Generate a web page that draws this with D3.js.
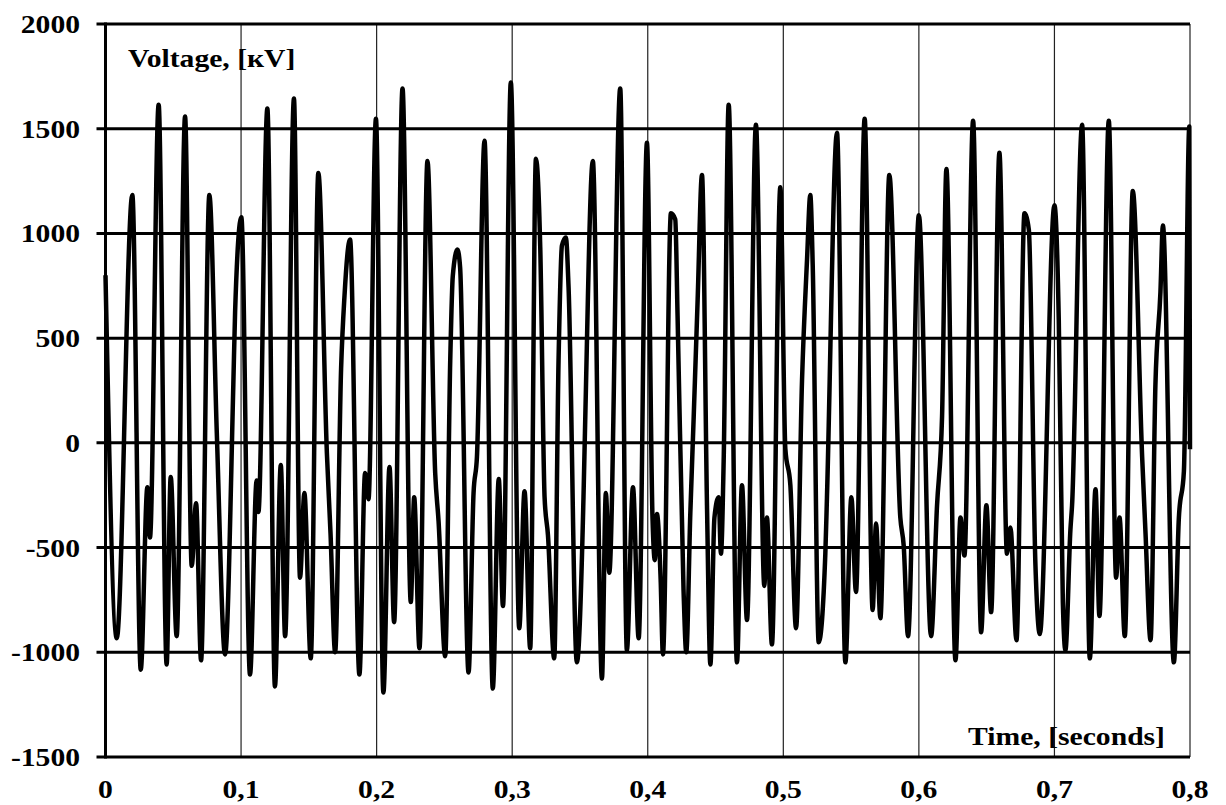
<!DOCTYPE html>
<html>
<head>
<meta charset="utf-8">
<script src="https://cdn.jsdelivr.net/npm/d3@7"></script>
<style>
  body { margin: 0; background: #fff; }
  text { font-family: "Liberation Serif", "Times New Roman", serif; font-weight: bold; font-size: 26px; fill: #000; }
</style>
</head>
<body>
<div id="chart"></div>
<script>
// values: time in seconds, voltage in kV
const times = [
  0.0000, 0.0083, 0.0198, 0.0260, 0.0309, 0.0328, 0.0392, 0.0451, 0.0481, 0.0525,
  0.0587, 0.0636, 0.0668, 0.0705, 0.0766, 0.0821, 0.0882, 0.0943, 0.0956, 0.1002,
  0.1066, 0.1115, 0.1128, 0.1194, 0.1250, 0.1293, 0.1325, 0.1390, 0.1435, 0.1467,
  0.1514, 0.1570, 0.1633, 0.1660, 0.1694, 0.1738, 0.1763, 0.1804, 0.1873, 0.1915,
  0.1940, 0.1995, 0.2050, 0.2095, 0.2129, 0.2191, 0.2252, 0.2277, 0.2316, 0.2375,
  0.2432, 0.2457, 0.2506, 0.2543, 0.2562, 0.2596, 0.2616, 0.2678, 0.2715, 0.2740,
  0.2796, 0.2857, 0.2901, 0.2932, 0.2990, 0.3052, 0.3091, 0.3133, 0.3175, 0.3207,
  0.3239, 0.3264, 0.3310, 0.3342, 0.3367, 0.3396, 0.3416, 0.3477, 0.3526, 0.3538,
  0.3595, 0.3662, 0.3691, 0.3716, 0.3797, 0.3846, 0.3891, 0.3933, 0.3994, 0.4035,
  0.4052, 0.4068, 0.4095, 0.4112, 0.4171, 0.4203, 0.4220, 0.4264, 0.4284, 0.4314,
  0.4339, 0.4368, 0.4400, 0.4437, 0.4462, 0.4492, 0.4523, 0.4540, 0.4560, 0.4597,
  0.4658, 0.4695, 0.4732, 0.4798, 0.4860, 0.4879, 0.4916, 0.4978, 0.5015, 0.5052,
  0.5094, 0.5138, 0.5175, 0.5199, 0.5217, 0.5261, 0.5310, 0.5322, 0.5396, 0.5458,
  0.5502, 0.5536, 0.5600, 0.5659, 0.5684, 0.5716, 0.5782, 0.5863, 0.5888, 0.5920,
  0.6000, 0.6090, 0.6134, 0.6171, 0.6203, 0.6270, 0.6307, 0.6336, 0.6400, 0.6459,
  0.6498, 0.6533, 0.6594, 0.6650, 0.6675, 0.6720, 0.6779, 0.6811, 0.6860, 0.6892,
  0.7000, 0.7032, 0.7062, 0.7081, 0.7118, 0.7130, 0.7204, 0.7261, 0.7303, 0.7332,
  0.7401, 0.7455, 0.7480, 0.7519, 0.7578, 0.7647, 0.7672, 0.7709, 0.7745, 0.7782,
  0.7800, 0.7881, 0.7918, 0.7955, 0.7995, 0.8000
];
const volts = [
   800, -933, 1183, -1083, -212, -452, 1615, -1058, -163, -923,
  1558, -587, -288, -1038, 1183,   48, -1010,  279,  625, 1077,
 -1106, -180, -330, 1596, -1163, -106, -923, 1644, -644, -240,
 -1029, 1288,  -48, -433, -1000,  356,  702,  971, -1106, -144,
  -269, 1548, -1192, -115, -856, 1692, -760, -260, -981, 1346,
  -144, -375, -1019,  394,  798,  923,  836, -1096, -240,  -67,
  1442, -1173, -173, -779, 1721, -885, -231, -981, 1356,  933,
  -260, -442, -1029,  394,  942,  981,  740, -1048, -260,   87,
  1346, -1125, -240, -620, 1692, -990, -212, -933, 1433, -356,
  -560, -340, -650, -1010, 1096, 1067,  606, -702, -1000, -337,
   125,  683, 1279, -298, -1058, -356, -260, -529,  -87, 1615,
 -1048, -202, -846, 1519, -683, -356, -962, 1221,  -29, -202,
  -885,  298,  875, 1183,  846, -952, -529, -260, 1481, -1048,
  -260, -712, 1548, -798, -385, -837, 1279, -356, -490, -923,
  1087, -923, -298,  125, 1308, -1038, -356, -538, 1538, -904,
  -298, -808, 1385, -529, -404, -942, 1096, 1019, -587, -913,
  1135,  587, -760, -990, -413, -298, 1519, -1029, -221, -827,
  1538, -644, -356, -923, 1202,  -67, -433, -942,  279,  721,
  1038, -1048, -356, -135, 1510,  -30
];
const yTicks = [-1500, -1000, -500, 0, 500, 1000, 1500, 2000];
const xTicks = [0, 0.1, 0.2, 0.3, 0.4, 0.5, 0.6, 0.7, 0.8];
const xTickLabels = ["0", "0,1", "0,2", "0,3", "0,4", "0,5", "0,6", "0,7", "0,8"];

const width = 1226, height = 805;
const plotLeft = 105.5, plotRight = 1190, plotTop = 24, plotBottom = 757;
const stretch = 1.14; // the original lettering is a bit wider than the font

const svg = d3.select("#chart")
  .append("svg")
  .attr("width", width)
  .attr("height", height);

const x = d3.scaleLinear().domain([0, 0.8]).range([plotLeft, plotRight]);
const y = d3.scaleLinear().domain([-1500, 2000]).range([plotBottom, plotTop]);

// thin vertical grid
svg.append("g")
  .selectAll("line")
  .data(xTicks.slice(1))
  .enter().append("line")
  .attr("x1", d => x(d)).attr("x2", d => x(d))
  .attr("y1", plotTop).attr("y2", plotBottom)
  .attr("stroke", "#222")
  .attr("stroke-width", 1.2);

// thick horizontal grid, sticking out left like ticks
svg.append("g")
  .selectAll("line")
  .data(yTicks)
  .enter().append("line")
  .attr("x1", plotLeft - 9).attr("x2", plotRight)
  .attr("y1", d => y(d)).attr("y2", d => y(d))
  .attr("stroke", "#000")
  .attr("stroke-width", 3);

// left axis
svg.append("line")
  .attr("x1", plotLeft).attr("x2", plotLeft)
  .attr("y1", plotTop - 1.5).attr("y2", plotBottom + 1.5)
  .attr("stroke", "#000")
  .attr("stroke-width", 3);

// the waveform
const line = d3.line()
  .x((d, i) => x(times[i]))
  .y(d => y(d))
  .curve(d3.curveMonotoneX);

svg.append("path")
  .datum(volts)
  .attr("d", line)
  .attr("fill", "none")
  .attr("stroke", "#000")
  .attr("stroke-width", 4.5)
  .attr("stroke-linejoin", "round");

// tick labels
svg.append("g")
  .selectAll("text")
  .data(yTicks)
  .enter().append("text")
  .attr("transform", d => `translate(80,${y(d) + 9}) scale(${stretch},1)`)
  .attr("text-anchor", "end")
  .text(d => d);

svg.append("g")
  .selectAll("text")
  .data(xTicks)
  .enter().append("text")
  .attr("transform", d => `translate(${x(d)},798) scale(${stretch},1)`)
  .attr("text-anchor", "middle")
  .text((d, i) => xTickLabels[i]);

// axis titles inside the plot
svg.append("text")
  .attr("transform", `translate(128,67) scale(${stretch},1)`)
  .text("Voltage, [кV]");

svg.append("text")
  .attr("transform", `translate(1165,745) scale(${stretch},1)`)
  .attr("text-anchor", "end")
  .text("Time, [seconds]");
</script>
</body>
</html>
